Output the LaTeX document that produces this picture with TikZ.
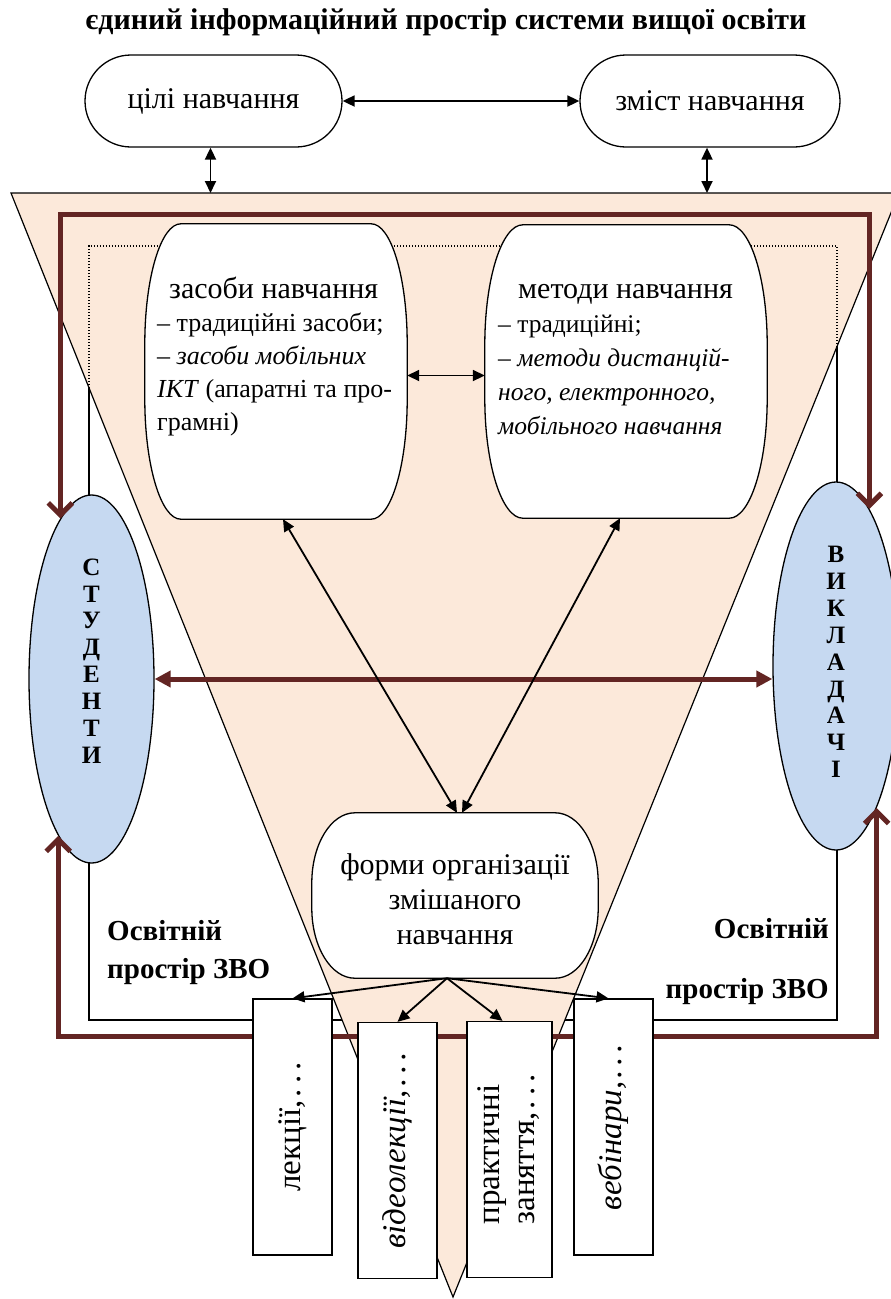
\documentclass[tikz,border=0pt]{standalone}
\usepackage{fontspec}
\setmainfont{Liberation Serif}
\usetikzlibrary{arrows.meta,calc,shapes.geometric}
\definecolor{peach}{HTML}{FCE9DA}
\definecolor{lblue}{HTML}{C6D9F1}
\definecolor{dred}{HTML}{632523}
\pgfdeclarelayer{background}
\pgfsetlayers{background,main}
\newcommand\barrelline[3]{%
 \draw[line width=1.3pt, fill=white] let \p1=(#1.north west), \p2=(#1.south east) in
 (\x1+#2,\y1) -- (\x2-#2,\y1)
 .. controls (\x2-0.448*#2,\y1) and (\x2,\y1-0.448*#3) .. (\x2,\y1-#3)
 -- (\x2,\y2+#3)
 .. controls (\x2,\y2+0.448*#3) and (\x2-0.448*#2,\y2) .. (\x2-#2,\y2)
 -- (\x1+#2,\y2)
 .. controls (\x1+0.448*#2,\y2) and (\x1,\y2+0.448*#3) .. (\x1,\y2+#3)
 -- (\x1,\y1-#3)
 .. controls (\x1,\y1-0.448*#3) and (\x1+0.448*#2,\y1) .. (\x1+#2,\y1) -- cycle;}
\newcommand\dts{,\kern3pt.\kern5pt.\kern5pt.}
\begin{document}
\begin{tikzpicture}[x=1pt,y=-1pt,
  >={Triangle[length=12pt,width=11pt]},
  thinl/.style={line width=1.2pt},
  arr/.style={line width=1.8pt},
  redl/.style={line width=5pt, draw=dred},
  barb/.tip={Straight Barb[length=12pt,width=24pt]},
  rtip/.tip={Triangle[length=16pt,width=16pt]},
  barr/.style={draw=none, inner sep=0pt},
  term/.style={draw, line width=1.3pt, rounded corners=46pt, minimum height=92pt, inner sep=0pt, font=\fontsize{30}{32}\selectfont},
  oval/.style={ellipse, draw, line width=1.3pt, fill=lblue, inner sep=0pt, minimum height=368pt},
  ovaltxt/.style={align=center, inner sep=0pt, font=\fontsize{25}{26.9}\selectfont\bfseries},
  bbox/.style={draw, fill=white, line width=1.3pt, inner sep=0pt, minimum height=256pt, font=\fontsize{33}{35}\selectfont},
  osv/.style={inner sep=0pt, font=\fontsize{29}{30}\selectfont\bfseries}]
\useasboundingbox (0,0) rectangle (891,1299);
\clip (0,0) rectangle (891,1299);
\coordinate (tritop) at (0,193);
\coordinate (redtop) at (0,214);
\coordinate (redbot) at (0,1036);
\begin{pgfonlayer}{background}
  \fill[white] (0,0) rectangle (891,1299);
  \draw[thinl] (89,246) rectangle (837,1020);
  \filldraw[fill=peach, draw=black, thinl] (11,193) -- (899,193) -- (453,1297) -- cycle;
  \begin{scope}
    \clip (11,193) -- (899,193) -- (453,1297) -- cycle;
    \draw[line width=1.2pt, dash pattern=on 1.2pt off 1.8pt] (89,700) -- (89,246) -- (837,246) -- (837,700);
  \end{scope}
\end{pgfonlayer}

\node[font=\fontsize{30}{32}\selectfont\bfseries] (title) at (446,22) {єдиний інформаційний простір системи вищої освіти};

\node[term, minimum width=257pt] (cili) at (213.5,101) {цілі навчання};
\node[term, minimum width=260pt] (zmist) at (710,101) {зміст навчання};

\node[barr, minimum width=262pt, minimum height=295pt] (zasoby) at (276,371.5) {};
\node[barr, minimum width=282pt, minimum height=293pt] (metody) at (626,371.5) {};
\node[barr, minimum width=286pt, minimum height=165pt] (forms) at (455,895.5) {};
\begin{pgfonlayer}{background}
  \barrelline{zasoby}{36pt}{120pt}
  \barrelline{metody}{38pt}{120pt}
  \barrelline{forms}{43pt}{70pt}
\end{pgfonlayer}

\node[anchor=base west, inner sep=0pt] (ztxt) at (157,298) {\fontsize{26}{33}\selectfont\begin{tabular}[t]{@{}l@{}}\hspace*{12pt}{\fontsize{30}{33}\selectfont засоби навчання}\\– традиційні засоби;\\– \textit{засоби мобільних}\\\textit{ІКТ} (апаратні та про-\\грамні)\end{tabular}};
\node[anchor=base west, inner sep=0pt] (mtxt) at (498,298) {\fontsize{25.5}{34}\selectfont\begin{tabular}[t]{@{}l@{}}\hspace*{20pt}{\fontsize{30}{34}\selectfont методи навчання}\\– традиційні;\\– \textit{методи дистанцій-}\\\textit{ного, електронного,}\\\textit{мобільного навчання}\end{tabular}};
\node[align=center, inner sep=0pt, font=\fontsize{30}{35}\selectfont] (ftxt) at (455,899) {форми організації\\змішаного\\навчання};

\node[oval, minimum width=125pt] (stud) at (91.5,679) {};
\node[oval, minimum width=126pt] (teach) at (836,666) {};
\node[ovaltxt] (studtxt) at (91.5,661) {С\\Т\\У\\Д\\Е\\Н\\Т\\И};
\node[ovaltxt] (teachtxt) at (836,662) {В\\И\\К\\Л\\А\\Д\\А\\Ч\\І};

% red connectors
\draw[redl, {barb}-{barb}] (stud.101) |- (teach.78 |- redtop) -- (teach.78);
\draw[redl, {barb}-{barb}] (stud.258) |- (teach.286 |- redbot) -- (teach.286);
\draw[redl, {rtip}-{rtip}] (stud.east) -- (stud.east -| teach.west);

% bottom boxes
\node[bbox, minimum width=79pt] (lek) at (292.5,1127) {\rotatebox{90}{лекції\dts}};
\node[bbox, minimum width=79pt] (video) at (397.5,1150.5) {\rotatebox{90}{\textit{відеолекції\dts}}};
\node[bbox, minimum width=85pt] (prak) at (509.5,1149.5) {\rotatebox{90}{\begin{tabular}{@{}l@{}}практичні\\заняття\dts\end{tabular}}};
\node[bbox, minimum width=79pt] (vebin) at (613.5,1127) {\rotatebox{90}{\textit{вебінари\dts}}};

% black connectors
\draw[arr, <->] (cili.east) -- (zmist.west);
\draw[arr, <->] ([xshift=-3pt]cili.south) -- ([xshift=-3pt]cili.south |- tritop);
\draw[arr, <->] ([xshift=-3pt]zmist.south) -- ([xshift=-3pt]zmist.south |- tritop);
\draw[arr, <->] ([yshift=-4pt]zasoby.east) -- ([yshift=-4pt]metody.west);
\draw[arr, <->] ([xshift=7pt]zasoby.south) -- ([xshift=2pt]forms.north);
\draw[arr, <->] ([xshift=-6pt]metody.south) -- ([xshift=7pt]forms.north);
\draw[arr, ->] ([xshift=-8pt]forms.south) -- (lek.north);
\draw[arr, ->] ([xshift=-8pt]forms.south) -- (video.north);
\draw[arr, ->] ([xshift=-8pt]forms.south) -- ([xshift=-7pt]prak.north);
\draw[arr, ->] ([xshift=-8pt]forms.south) -- ([xshift=-5pt]vebin.north);

\node[osv, anchor=base west] (osl1) at (107,940) {Освітній};
\node[osv, anchor=base west] (osl2) at (107,978) {простір ЗВО};
\node[osv, anchor=base east] (osr1) at (829,938) {Освітній};
\node[osv, anchor=base east] (osr2) at (829,998) {простір ЗВО};
\end{tikzpicture}
\end{document}
